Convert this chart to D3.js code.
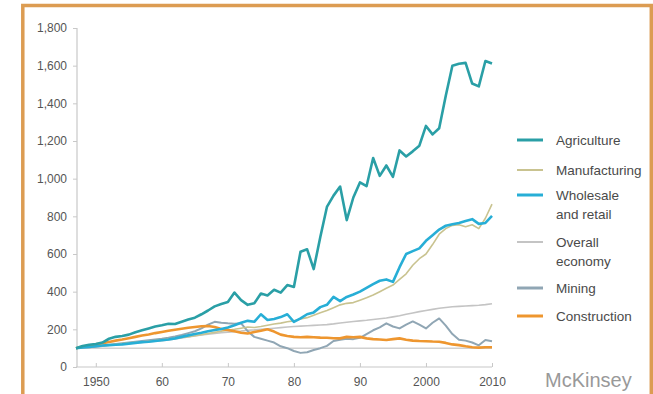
<!DOCTYPE html>
<html>
<head>
<meta charset="utf-8">
<style>
  body { margin: 0; background: #fff; }
  svg { display: block; font-family: "Liberation Sans", Arial, sans-serif; }
</style>
</head>
<body>
<svg width="653" height="394"></svg>
<script src="https://d3js.org/d3.v7.min.js"></script>
<script>

    // index, 1947 = 100
    var years = d3.range(1947, 2011);

    var agriculture = [100, 112, 118, 122, 130, 150, 160, 165, 172, 185,
        195, 205, 215, 222, 230, 228, 240, 252, 262, 280,
        300, 322, 335, 345, 395, 355, 330, 338, 390, 380,
        410, 395, 435, 425, 612, 625, 520, 690, 850, 910,
        958, 780, 900, 980, 960, 1110, 1015, 1070, 1010, 1150,
        1118, 1145, 1175, 1280, 1235, 1268, 1440, 1600, 1610, 1615,
        1505, 1490, 1625, 1612];

    var manufacturing = [100, 104, 106, 112, 115, 118, 121, 124, 128, 131,
        134, 137, 141, 145, 149, 153, 157, 161, 166, 172,
        178, 184, 190, 195, 200, 206, 212, 210, 215, 222,
        228, 233, 240, 245, 255, 262, 275, 288, 300, 315,
        330, 338, 342, 355, 368, 382, 400, 418, 435, 465,
        495, 540, 575, 600, 650, 705, 735, 752, 755, 745,
        755, 735, 790, 865];

    var wholesale = [100, 104, 106, 110, 114, 116, 118, 120, 124, 128,
        132, 134, 138, 142, 146, 152, 160, 168, 175, 182,
        190, 196, 202, 210, 222, 235, 245, 240, 280, 250,
        255, 265, 280, 240, 258, 280, 290, 318, 330, 372,
        350, 372, 385, 400, 420, 440, 458, 465, 452, 530,
        600, 615, 630, 670, 700, 730, 750, 758, 765, 775,
        785, 760, 765, 802];

    var overall = [100, 104, 107, 110, 113, 116, 119, 122, 125, 128,
        131, 134, 137, 140, 144, 149, 154, 159, 165, 170,
        174, 178, 182, 185, 188, 191, 195, 197, 200, 203,
        206, 209, 212, 215, 217, 219, 221, 223, 225, 229,
        234, 238, 242, 245, 248, 252, 256, 260, 266, 272,
        280, 287, 294, 300, 306, 312, 316, 320, 322, 324,
        326, 328, 331, 336];

    var mining = [100, 103, 105, 108, 112, 117, 122, 126, 130, 134,
        138, 142, 146, 150, 155, 162, 170, 180, 190, 205,
        225, 240, 235, 232, 230, 232, 190, 160, 150, 140,
        130, 110, 100, 85, 75, 78, 90, 100, 112, 138,
        145, 150, 148, 155, 175, 195, 210, 232, 215, 205,
        225, 242, 225, 205, 235, 258, 220, 175, 145, 140,
        130, 115, 143, 137];

    var construction = [100, 108, 113, 120, 126, 133, 140, 146, 153, 160,
        167, 173, 180, 186, 192, 198, 203, 208, 212, 216,
        218, 212, 202, 196, 190, 182, 178, 186, 192, 200,
        188, 172, 165, 160, 158, 160, 158, 156, 155, 153,
        152, 160, 158, 160, 152, 148, 146, 143, 148, 152,
        145, 140, 138, 137, 135, 134, 128, 120, 116, 110,
        105, 103, 105, 105];

    var seriesNames = ["Agriculture", "Manufacturing", "Wholesale\nand retail",
        "Overall\neconomy", "Mining", "Construction"];
    var seriesValues = [agriculture, manufacturing, wholesale, overall, mining, construction];
    var seriesColors = ["#2a9fa6", "#c9c390", "#27aed6", "#c4c4c4", "#90a6b4", "#ee962f"];
    var seriesWidths = [2.6, 1.6, 2.6, 1.6, 2, 2.6];

    var yTicks = [0, 200, 400, 600, 800, 1000, 1200, 1400, 1600, 1800];
    var xTicks = [1950, 1960, 1970, 1980, 1990, 2000, 2010];
    var xTickLabels = ["1950", "60", "70", "80", "90", "2000", "2010"];

    var svg = d3.select("svg");

    // frame
    svg.append("rect")
        .attr("x", 22.8).attr("y", 5.5)
        .attr("width", 628.5).attr("height", 400)
        .attr("fill", "none")
        .attr("stroke", "#dc9c52")
        .attr("stroke-width", 3.5);

    var x = d3.scaleLinear().domain([1947, 2010]).range([76, 492]);
    var y = d3.scaleLinear().domain([0, 1800]).range([367, 28]);

    // y axis
    var yAxis = svg.append("g")
        .attr("transform", "translate(77,0)")
        .call(d3.axisLeft(y).tickValues(yTicks).tickSize(4).tickPadding(6)
            .tickFormat(d3.format(",")));
    yAxis.select(".domain").attr("stroke", "#c8c8c8").attr("stroke-width", 1.2)
        .attr("d", "M0," + y(1800) + "V" + y(0));
    yAxis.selectAll(".tick line").attr("stroke", "#c8c8c8");
    yAxis.selectAll(".tick text").attr("fill", "#555").style("font-size", "12px");

    // x axis
    var xAxis = svg.append("g")
        .attr("transform", "translate(0," + y(0) + ")")
        .call(d3.axisBottom(x).tickValues(xTicks).tickSize(-4).tickPadding(10)
            .tickFormat(function(d, i) { return xTickLabels[i]; }));
    xAxis.select(".domain").attr("stroke", "#c8c8c8").attr("stroke-width", 1.2)
        .attr("d", "M" + x(1947) + ",0H" + x(2010));
    xAxis.selectAll(".tick line").attr("stroke", "#c8c8c8");
    xAxis.selectAll(".tick text").attr("fill", "#555").style("font-size", "12px");

    // reference line at 100
    svg.append("line")
        .attr("x1", x(1947)).attr("x2", x(2010))
        .attr("y1", y(100)).attr("y2", y(100))
        .attr("stroke", "#d0d0d0").attr("stroke-width", 1.5);

    var line = d3.line()
        .x(function(d, i) { return x(years[i]); })
        .y(function(d) { return y(d); });

    // draw order: thin lines under thick ones
    var order = [3, 4, 1, 5, 2, 0];
    order.forEach(function(k) {
        svg.append("path")
            .datum(seriesValues[k])
            .attr("fill", "none")
            .attr("stroke", seriesColors[k])
            .attr("stroke-width", seriesWidths[k])
            .attr("stroke-linejoin", "round")
            .attr("d", line);
    });

    // legend
    var legendY = [140, 170, 195, 242, 288, 316];
    var legend = svg.append("g");
    seriesNames.forEach(function(name, k) {
        legend.append("line")
            .attr("x1", 517).attr("x2", 543)
            .attr("y1", legendY[k]).attr("y2", legendY[k])
            .attr("stroke", seriesColors[k])
            .attr("stroke-width", k === 1 || k === 3 ? 2 : 3);
        var t = legend.append("text")
            .attr("x", 556).attr("y", legendY[k] + 4.5)
            .attr("fill", "#4a4a4a")
            .style("font-size", "13.5px");
        name.split("\n").forEach(function(s, j) {
            t.append("tspan").attr("x", 556).attr("dy", j ? 19 : 0).text(s);
        });
    });

    svg.append("text")
        .attr("x", 545).attr("y", 387)
        .attr("fill", "#999")
        .style("font-size", "20px")
        .text("McKinsey");

</script>
</body>
</html>
